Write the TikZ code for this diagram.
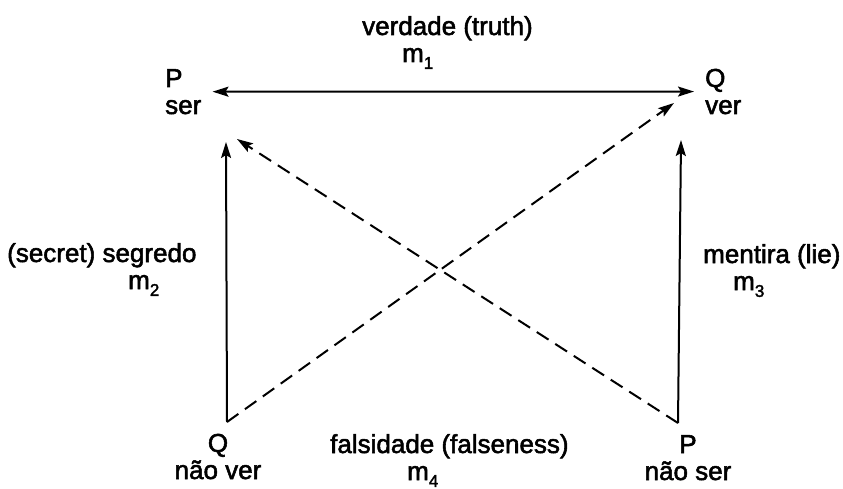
\documentclass[tikz,border=0pt]{standalone}
\usepackage{fontspec}
\setmainfont{Liberation Sans}[FakeBold=2]
\usetikzlibrary{arrows.meta}
\newcommand{\msub}[1]{\raisebox{-0.5ex}{\fontsize{17}{17}\selectfont #1}}

\begin{document}
\begin{tikzpicture}[x=1pt,y=-1pt,>={Stealth[length=16pt,width=10pt,inset=3pt]},
  every node/.style={font=\fontsize{26}{27}\selectfont,inner sep=0pt},
  corner/.style={align=left},
  arr/.style={line width=2pt},
  darr/.style={arr,dash pattern=on 14pt off 8pt}]
\useasboundingbox (0,0) rectangle (843,489);
\node[corner,anchor=base west] (ps) at (165,114) {P\\ser};
\node[corner,anchor=base west] (qv) at (705,114) {Q\\ver};
\node[align=center,anchor=base] (qn) at (218,479) {Q\\não ver};
\node[align=center,anchor=base] (pn) at (688,480) {P\\não ser};
\node[align=left,anchor=base west] (truth) at (362,62) {verdade (truth)\\\hspace*{40pt}m\msub{1}};
\node[align=left,anchor=base west] (secret) at (7,289) {(secret) segredo\\\hspace*{121pt}m\msub{2}};
\node[align=left,anchor=base west] (lie) at (703,290) {mentira (lie)\\\hspace*{30pt}m\msub{3}};
\node[align=left,anchor=base west] (false) at (330,480) {falsidade (falseness)\\\hspace*{77pt}m\msub{4}};
\coordinate (bl) at (227,422);\coordinate (br) at (678,423);
\coordinate (tl) at (226,142);\coordinate (tr) at (681,140);
\coordinate (tlx) at (237,139);\coordinate (trx) at (674,103);
\draw[arr,<->,shorten <=11pt,shorten >=11pt] (ps.east)--(qv.west);
\draw[arr,->] (bl)--(tl);\draw[arr,->] (br)--(tr);
\draw[darr,->] (br)--(tlx);\draw[darr,->] (bl)--(trx);
\end{tikzpicture}
\end{document}
